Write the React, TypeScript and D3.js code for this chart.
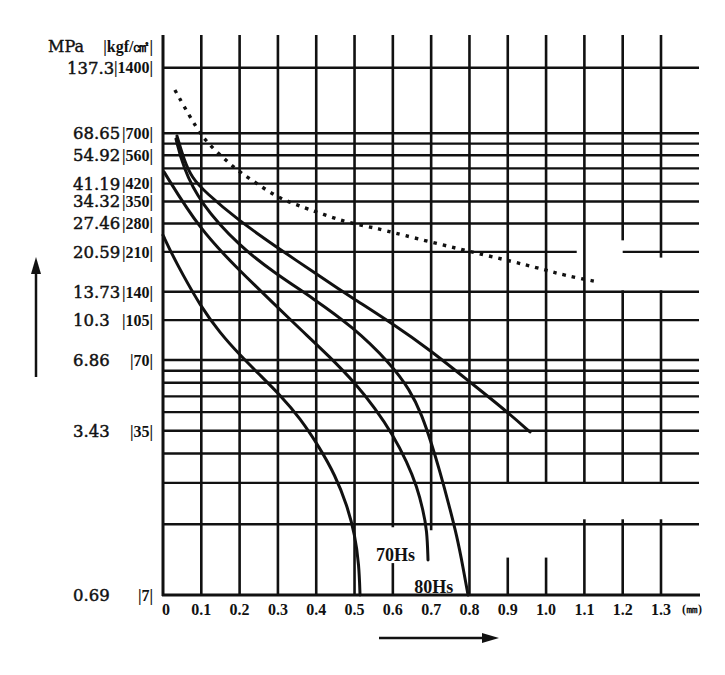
import React from 'react';
import * as d3 from 'd3';

// curves: [thickness mm, pressure kgf/cm2]
const curveA: [number, number][] = [[0.0365, 681], [0.0548, 534], [0.0757, 445], [0.1096, 386], [0.1958, 290], [0.2924, 223], [0.3968, 169], [0.496, 131], [0.6004, 101], [0.697, 77.5], [0.8014, 56.4], [0.8928, 42.9], [0.958, 34.6]];
const curve80Hs: [number, number][] = [[0.0339, 661], [0.0522, 497], [0.0966, 345], [0.201, 221], [0.2924, 169], [0.3916, 131], [0.496, 97.9], [0.5926, 68], [0.6448, 52.2], [0.6761, 40.8], [0.7022, 30.4], [0.7231, 23.4], [0.7466, 16.9], [0.7675, 12.4], [0.7832, 9.2], [0.7962, 7]];
const curve70Hs: [number, number][] = [[0.0026, 473], [0.0966, 262], [0.201, 172.9], [0.2871, 125], [0.3576, 96], [0.4359, 72.2], [0.5012, 55.9], [0.5534, 43.7], [0.6004, 33.6], [0.637, 25.8], [0.6631, 20.2], [0.6787, 16.1], [0.6892, 13.2], [0.6918, 9.87]];
const curveD: [number, number][] = [[0, 249], [0.0235, 205], [0.0496, 169], [0.0966, 122], [0.1488, 92], [0.201, 73.6], [0.2532, 60.4], [0.3054, 49.7], [0.3576, 39.7], [0.4098, 29.5], [0.449, 22.7], [0.4803, 16.9], [0.5012, 12.6], [0.5117, 9.39], [0.5143, 7]];
const dotted: [number, number][] = [[0.031, 1106], [0.053, 944], [0.088, 738], [0.11, 654], [0.14, 580], [0.175, 513], [0.205, 466], [0.244, 421], [0.297, 367], [0.34, 343], [0.375, 326], [0.436, 300], [0.488, 281], [0.558, 267], [0.61, 253], [0.783, 214], [0.898, 193], [1.003, 174], [1.044, 166], [1.133, 155]];

const solidCurves = [curveA, curve80Hs, curve70Hs, curveD];

const xTicks = [0, 0.1, 0.2, 0.3, 0.4, 0.5, 0.6, 0.7, 0.8, 0.9, 1.0, 1.1, 1.2, 1.3];
const xTickLabels = ['0', '0.1', '0.2', '0.3', '0.4', '0.5', '0.6', '0.7', '0.8', '0.9', '1.0', '1.1', '1.2', '1.3'];
const hGrid = [1400, 700, 630, 560, 490, 420, 350, 280, 210, 140, 105, 70, 63, 56, 49, 42, 35, 28, 21, 14];
const kgfLabels = [1400, 700, 560, 420, 350, 280, 210, 140, 105, 70, 35, 7];
const mpaLabels = ['137.3', '68.65', '54.92', '41.19', '34.32', '27.46', '20.59', '13.73', '10.3', '6.86', '3.43', '0.69'];

// broken pieces of the printed grid: [x, kgf from, kgf to]
const vGaps: [number, number, number][] = [[0.6, 13.6, 9.57], [0.7, 13.2, 7], [0.9, 21.2, 10.1], [1.0, 21.2, 10.1], [1.1, 21.2, 14.7], [1.2, 21.2, 14.7], [1.3, 21.2, 14.7], [1.2, 236, 142], [1.3, 198, 142]];
// [kgf, x from, x to]
const hGaps: [number, number, number][] = [[210, 1.08, 1.2]];

const W = 725;
const H = 675;
const TOP = 35;
const RIGHT = 699;

const x = d3.scaleLinear().domain([0, 1.3]).range([163, 661]);
const y = d3.scaleLog().domain([7, 70, 700, 1400]).range([595, 360, 133.3, 67.7]);

const smoothLine = d3.line<[number, number]>()
  .x(d => x(d[0]))
  .y(d => y(d[1]))
  .curve(d3.curveBasis);

const serif = '"Liberation Serif", "DejaVu Serif", serif';
const wideSerif = '"DejaVu Serif", serif';

// split a segment [a,b] by gaps
function pieces(a: number, b: number, gaps: [number, number][]): [number, number][] {
  let segs: [number, number][] = [[a, b]];
  gaps.forEach(([g0, g1]) => {
    const lo = Math.min(g0, g1), hi = Math.max(g0, g1);
    const next: [number, number][] = [];
    segs.forEach(([s0, s1]) => {
      if (hi <= s0 || lo >= s1) { next.push([s0, s1]); return; }
      if (lo > s0) next.push([s0, lo]);
      if (hi < s1) next.push([hi, s1]);
    });
    segs = next;
  });
  return segs;
}

const App: React.FC = () => {
  const bottom = y(7);
  return (
    <svg width={W} height={H} style={{ position: 'absolute', left: 0, top: 0, background: '#fff' }}>
      <rect width={W} height={H} fill="#fff" />

      {/* horizontal grid */}
      {hGrid.map(v => {
        const gaps = hGaps.filter(g => g[0] === v).map(g => [x(g[1]), x(g[2])] as [number, number]);
        return pieces(163, RIGHT, gaps).map(([a, b], i) => (
          <line key={`h${v}-${i}`} x1={a} x2={b} y1={y(v)} y2={y(v)} stroke="#111" strokeWidth={2.4} />
        ));
      })}

      {/* vertical grid */}
      {xTicks.slice(1).map(t => {
        const gaps = vGaps.filter(g => g[0] === t).map(g => [y(g[1]), y(g[2])] as [number, number]);
        return pieces(TOP, bottom, gaps).map(([a, b], i) => (
          <line key={`v${t}-${i}`} x1={x(t)} x2={x(t)} y1={a} y2={b} stroke="#111" strokeWidth={2.6} />
        ));
      })}

      {/* axes */}
      <line x1={x(0)} x2={x(0)} y1={TOP} y2={bottom + 1} stroke="#111" strokeWidth={3} />
      <line x1={x(0) - 1} x2={RIGHT + 1} y1={bottom} y2={bottom} stroke="#111" strokeWidth={3} />

      {/* curves */}
      {solidCurves.map((c, i) => (
        <path key={i} d={smoothLine(c) || undefined} fill="none" stroke="#111" strokeWidth={3} strokeLinecap="round" />
      ))}
      <path d={smoothLine(dotted) || undefined} fill="none" stroke="#111" strokeWidth={3.4} strokeDasharray="3.5 6" />

      {/* curve labels */}
      <text x={x(0.556)} y={y(9.8)} fontFamily={serif} fontWeight="bold" fontSize={18} fill="#111">70Hs</text>
      <text x={x(0.656)} y={y(7) - 2} fontFamily={serif} fontWeight="bold" fontSize={18} fill="#111">80Hs</text>

      {/* y labels */}
      <text x={48} y={52} fontFamily={wideSerif} fontSize={16} fill="#111" stroke="#111" strokeWidth={0.4}>MPa</text>
      <text x={153} y={52} textAnchor="end" fontFamily={serif} fontWeight="bold" fontSize={16} fill="#111">|kgf/㎠|</text>
      {kgfLabels.map((v, i) => (
        <g key={v}>
          <text x={i === 0 ? 67 : 73} y={y(v)} dy="0.36em" fontFamily={wideSerif} fontSize={16.5} fill="#111" stroke="#111" strokeWidth={0.45}>{mpaLabels[i]}</text>
          <text x={153} y={y(v)} dy="0.36em" textAnchor="end" fontFamily={serif} fontWeight="bold" fontSize={16} fill="#111">{`|${v}|`}</text>
        </g>
      ))}

      {/* x labels */}
      {xTicks.map((t, i) => (
        <text key={t} x={x(t) + (i === 0 ? 3 : 0)} y={bottom + 20} textAnchor="middle" fontFamily={serif} fontWeight="bold" fontSize={16} fill="#111">{xTickLabels[i]}</text>
      ))}
      <text x={692} y={bottom + 18} textAnchor="middle" fontFamily={serif} fontWeight="bold" fontSize={12} fill="#111">(㎜)</text>

      {/* arrows */}
      <line x1={36} x2={36} y1={377} y2={270} stroke="#111" strokeWidth={2.5} />
      <path d="M36,257 L31,274 L41,274 Z" fill="#111" />
      <line x1={379} x2={485} y1={638} y2={638} stroke="#111" strokeWidth={2.5} />
      <path d="M499,638 L482,633 L482,643 Z" fill="#111" />
    </svg>
  );
};

export default App;
